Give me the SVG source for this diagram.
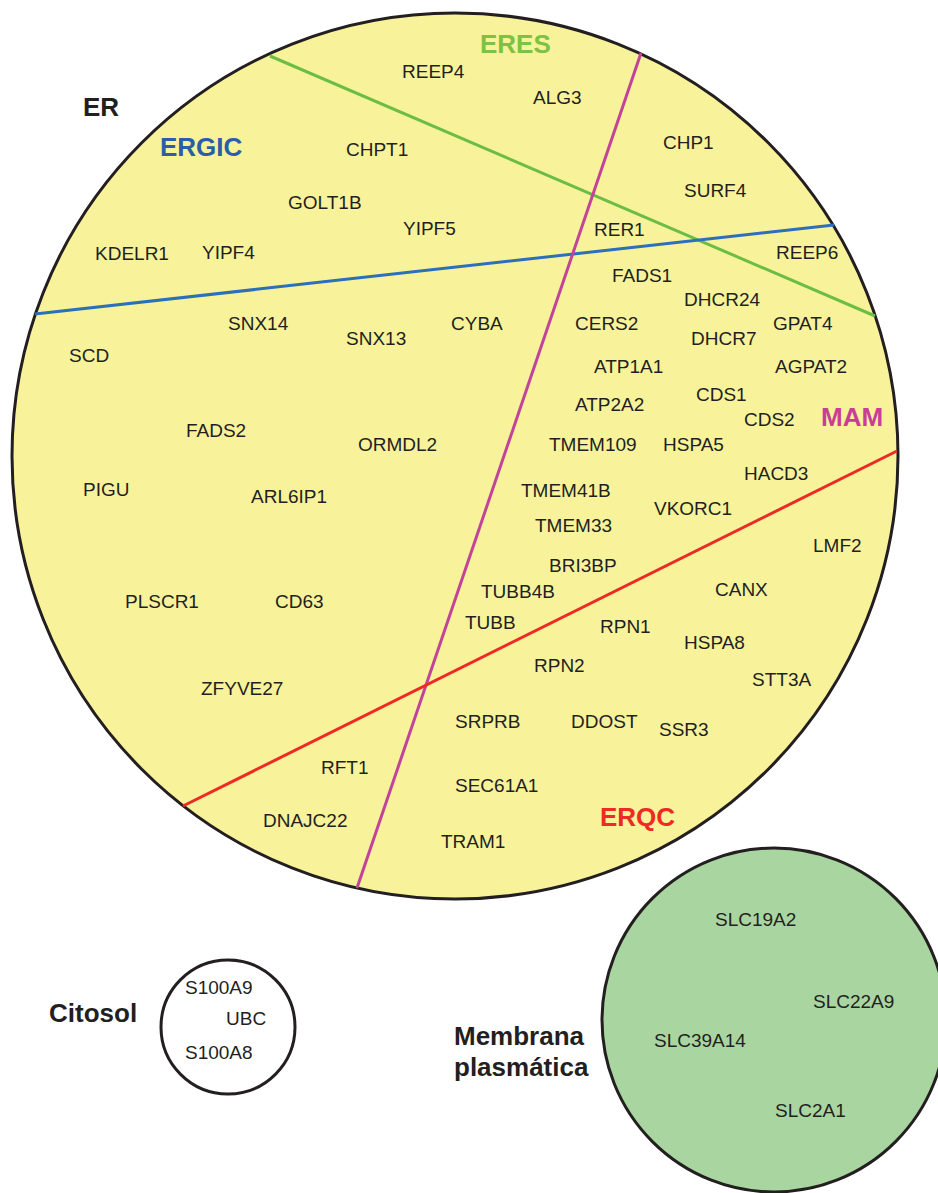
<svg xmlns="http://www.w3.org/2000/svg" width="938" height="1193" viewBox="0 0 938 1193">
<style>
.g{font-family:"Liberation Sans",Arial,sans-serif;font-size:19px;fill:#231f20}
.b{font-family:"Liberation Sans",Arial,sans-serif;font-size:26px;font-weight:bold}
.k{fill:#231f20}
.ln{stroke-width:3;fill:none}
</style>
<rect width="938" height="1193" fill="#ffffff"/>
<g id="er">
<circle cx="455" cy="456" r="443" fill="#f8f39b" stroke="#231f20" stroke-width="3"/>
</g>
<g id="connectors">
<line class="ln" x1="270" y1="56" x2="875" y2="316" stroke="#6cbd45"/>
<line class="ln" x1="35" y1="314" x2="834" y2="225" stroke="#2b70b8"/>
<line class="ln" x1="641" y1="53" x2="357" y2="888" stroke="#c2449a"/>
<line class="ln" x1="897" y1="451" x2="183" y2="806" stroke="#ee2a24"/>
</g>
<g id="er-labels">
<text class="b k" x="83" y="116">ER</text>
<text class="b" x="480" y="53" fill="#7dc242">ERES</text>
<text class="b" x="160" y="156" fill="#2a5ea8">ERGIC</text>
<text class="b" x="821" y="426" fill="#c93d98">MAM</text>
<text class="b" x="600" y="826" fill="#ee2a24">ERQC</text>
</g>
<g id="er-genes">
<text class="g" x="402" y="78">REEP4</text>
<text class="g" x="533" y="104">ALG3</text>
<text class="g" x="663" y="149">CHP1</text>
<text class="g" x="684" y="197">SURF4</text>
<text class="g" x="594" y="236">RER1</text>
<text class="g" x="776" y="259">REEP6</text>
<text class="g" x="403" y="235">YIPF5</text>
<text class="g" x="346" y="156">CHPT1</text>
<text class="g" x="288" y="209">GOLT1B</text>
<text class="g" x="95" y="260">KDELR1</text>
<text class="g" x="202" y="259">YIPF4</text>
<text class="g" x="612" y="282">FADS1</text>
<text class="g" x="684" y="306">DHCR24</text>
<text class="g" x="451" y="330">CYBA</text>
<text class="g" x="575" y="330">CERS2</text>
<text class="g" x="773" y="330">GPAT4</text>
<text class="g" x="691" y="345">DHCR7</text>
<text class="g" x="594" y="373">ATP1A1</text>
<text class="g" x="775" y="373">AGPAT2</text>
<text class="g" x="696" y="401">CDS1</text>
<text class="g" x="575" y="411">ATP2A2</text>
<text class="g" x="744" y="426">CDS2</text>
<text class="g" x="549" y="451">TMEM109</text>
<text class="g" x="663" y="451">HSPA5</text>
<text class="g" x="744" y="480">HACD3</text>
<text class="g" x="521" y="497">TMEM41B</text>
<text class="g" x="654" y="515">VKORC1</text>
<text class="g" x="535" y="532">TMEM33</text>
<text class="g" x="813" y="552">LMF2</text>
<text class="g" x="549" y="572">BRI3BP</text>
<text class="g" x="481" y="598">TUBB4B</text>
<text class="g" x="715" y="596">CANX</text>
<text class="g" x="465" y="629">TUBB</text>
<text class="g" x="600" y="633">RPN1</text>
<text class="g" x="684" y="649">HSPA8</text>
<text class="g" x="534" y="672">RPN2</text>
<text class="g" x="752" y="686">STT3A</text>
<text class="g" x="455" y="728">SRPRB</text>
<text class="g" x="571" y="728">DDOST</text>
<text class="g" x="659" y="736">SSR3</text>
<text class="g" x="455" y="792">SEC61A1</text>
<text class="g" x="441" y="848">TRAM1</text>
<text class="g" x="321" y="774">RFT1</text>
<text class="g" x="263" y="827">DNAJC22</text>
<text class="g" x="228" y="330">SNX14</text>
<text class="g" x="346" y="345">SNX13</text>
<text class="g" x="69" y="362">SCD</text>
<text class="g" x="186" y="437">FADS2</text>
<text class="g" x="358" y="451">ORMDL2</text>
<text class="g" x="83" y="496">PIGU</text>
<text class="g" x="251" y="503">ARL6IP1</text>
<text class="g" x="125" y="608">PLSCR1</text>
<text class="g" x="275" y="608">CD63</text>
<text class="g" x="201" y="695">ZFYVE27</text>
</g>
<g id="citosol">
<circle cx="228" cy="1027" r="67" fill="#ffffff" stroke="#231f20" stroke-width="3"/>
<text class="b k" x="49" y="1022">Citosol</text>
<text class="g" x="185" y="994">S100A9</text>
<text class="g" x="226" y="1025">UBC</text>
<text class="g" x="185" y="1059">S100A8</text>
</g>
<g id="membrana">
<circle cx="774" cy="1020" r="172" fill="#a9d6a0" stroke="#231f20" stroke-width="3"/>
<text class="b k" x="454" y="1045">Membrana</text>
<text class="b k" x="454" y="1076">plasmática</text>
<text class="g" x="715" y="926">SLC19A2</text>
<text class="g" x="813" y="1008">SLC22A9</text>
<text class="g" x="654" y="1047">SLC39A14</text>
<text class="g" x="775" y="1117">SLC2A1</text>
</g>
</svg>
